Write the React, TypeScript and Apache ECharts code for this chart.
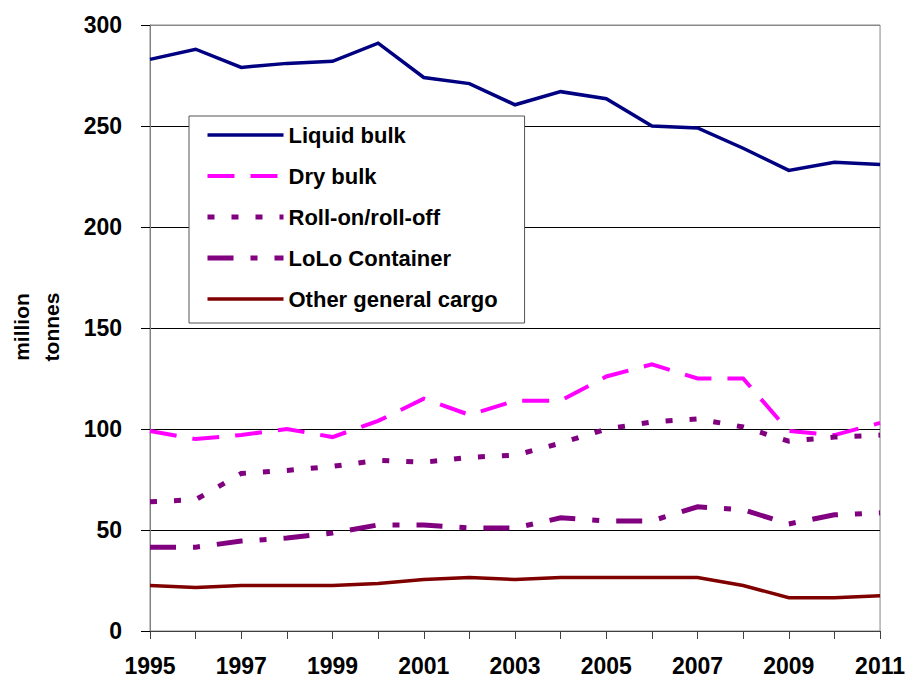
import React, { useEffect, useRef } from "react";
import * as echarts from "echarts";

const years = ["1995","1996","1997","1998","1999","2000","2001","2002","2003","2004","2005","2006","2007","2008","2009","2010","2011"];
const liquidBulk = [283, 288, 279, 281, 282, 291, 274, 271, 260.5, 267, 263.5, 250, 249, 239, 228, 232, 231];
const dryBulk = [99, 95, 97, 100, 96, 104, 115, 107, 114, 114, 126, 132, 125, 125, 99, 97, 103];
const roRo = [64, 65, 78, 79.5, 81.5, 84.5, 83.5, 86, 87, 93, 100, 103.5, 105, 101, 94, 96, 97];
const loLo = [41.5, 41.5, 44.5, 46, 48.5, 52.5, 52.5, 51, 51, 56, 54.5, 54.5, 61.5, 60, 53, 57.5, 58.5];
const otherGeneral = [22.5, 21.5, 22.5, 22.5, 22.5, 23.5, 25.5, 26.5, 25.5, 26.5, 26.5, 26.5, 26.5, 22.5, 16.5, 16.5, 17.5];

const seriesNames = ["Liquid bulk", "Dry bulk", "Roll-on/roll-off", "LoLo Container", "Other general cargo"];
const yAxisTitle = "million\ntonnes";

const FONT = "'Liberation Sans', Arial, sans-serif";

export default function App() {
  const ref = useRef<HTMLDivElement>(null);
  useEffect(() => {
    if (!ref.current) return;
    const chart = echarts.init(ref.current, undefined, { renderer: "svg" });
    const styles = [
      { color: "#000080", width: 3.5, type: "solid" as any },
      { color: "#FF00FF", width: 4, type: [27, 16] },
      { color: "#800080", width: 5, type: [7, 17] },
      { color: "#800080", width: 5, type: [26, 17, 7, 17] },
      { color: "#800000", width: 3.5, type: "solid" as any },
    ];
    const datasets = [liquidBulk, dryBulk, roRo, loLo, otherGeneral];
    const series = seriesNames.map((name, i) => ({
      name,
      type: "line",
      data: datasets[i],
      symbol: "none",
      lineStyle: { color: styles[i].color, width: styles[i].width, type: styles[i].type, cap: "butt", join: "miter" },
      itemStyle: { color: styles[i].color },
      z: 3,
    }));
    chart.setOption({
      animation: false,
      backgroundColor: "#fff",
      grid: {
        left: 150, right: 26, top: 25, bottom: 46,
        show: true, borderColor: "#888", borderWidth: 1, backgroundColor: "transparent",
      },
      legend: {
        orient: "vertical",
        left: 189,
        top: 116,
        padding: [8, 27, 13, 16],
        itemWidth: 76,
        itemHeight: 14,
        itemGap: 19,
        borderColor: "#555",
        borderWidth: 1,
        backgroundColor: "#fff",
        selectedMode: false,
        itemStyle: { opacity: 0 },
        textStyle: { fontFamily: FONT, fontWeight: "bold", fontSize: 22, color: "#000" },
        data: seriesNames.map((name, i) => ({
          name,
          itemStyle: { opacity: 0 },
          lineStyle: { color: styles[i].color, width: styles[i].width, type: styles[i].type, cap: "butt" },
        })),
      },
      xAxis: {
        type: "category",
        data: years,
        boundaryGap: false,
        axisLine: { lineStyle: { color: "#404040", width: 1 } },
        axisTick: { show: true, interval: 0, length: 8, lineStyle: { color: "#404040" } },
        axisLabel: {
          interval: 1,
          margin: 23,
          fontFamily: FONT,
          fontWeight: "bold",
          fontSize: 23,
          color: "#000",
        },
        splitLine: { show: false },
      },
      yAxis: {
        type: "value",
        min: 0,
        max: 300,
        interval: 50,
        axisLine: { show: true, lineStyle: { color: "#808080", width: 1 } },
        axisTick: { show: true, length: 9, lineStyle: { color: "#000" } },
        axisLabel: {
          margin: 28,
          fontFamily: FONT,
          fontWeight: "bold",
          fontSize: 23,
          color: "#000",
        },
        splitLine: {
          show: true,
          lineStyle: { color: ["#000", "#000", "#000", "#000", "#000", "#000", "#888"], width: 1 },
        },
      },
      graphic: [
        {
          type: "text",
          x: 36,
          y: 327,
          rotation: Math.PI / 2,
          style: {
            text: yAxisTitle,
            fontFamily: FONT,
            fontWeight: "bold",
            fontSize: 21,
            lineHeight: 30,
            fill: "#000",
            align: "center",
            verticalAlign: "middle",
          },
        },
      ],
      series,
    });
    return () => chart.dispose();
  }, []);
  return <div ref={ref} style={{ position: "fixed", left: 0, top: 0, width: 908, height: 677 }} />;
}
